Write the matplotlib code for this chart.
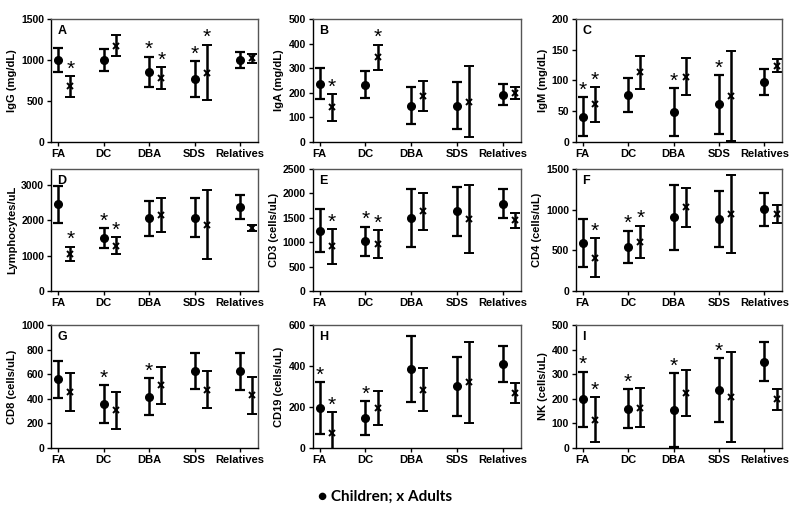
#!/usr/bin/env python3
# -*- coding: utf-8 -*-
import matplotlib
matplotlib.use('Agg')
import matplotlib.pyplot as plt

plt.rcParams['font.family'] = ['Liberation Sans', 'DejaVu Sans']
plt.rcParams['font.weight'] = 'bold'

# data (mean, sd, significance star 1/0)
groups = ['FA', 'DC', 'DBA', 'SDS', 'Relatives']

# A: IgG
igg_child = [1000, 1000, 855, 766, 1005]
igg_child_sd = [150, 130, 185, 222, 97]
igg_adult = [677, 1175, 780, 847, 1020]
igg_adult_sd = [130, 127, 135, 340, 58]
igg_star_child = [0, 0, 1, 1, 0]
igg_star_adult = [1, 0, 1, 1, 0]

# B: IgA
iga_child = [236, 232, 148, 148, 193]
iga_child_sd = [63, 55, 75, 94, 41]
iga_adult = [141, 344, 186, 164, 200]
iga_adult_sd = [55, 52, 60, 143, 25]
iga_star_child = [0, 0, 0, 0, 0]
iga_star_adult = [1, 1, 0, 0, 0]

# C: IgM
igm_child = [41, 76, 49, 61, 98]
igm_child_sd = [32, 28, 39, 48, 21]
igm_adult = [61, 113, 106, 75, 124]
igm_adult_sd = [28, 27, 30, 73, 11]
igm_star_child = [1, 0, 1, 1, 0]
igm_star_adult = [1, 0, 0, 0, 0]

# D: lymphocytes
lym_child = [2450, 1500, 2058, 2077, 2365]
lym_child_sd = [530, 270, 500, 560, 340]
lym_adult = [1058, 1279, 2144, 1875, 1779]
lym_adult_sd = [200, 240, 480, 980, 75]
lym_star_child = [0, 1, 0, 0, 0]
lym_star_adult = [1, 1, 0, 0, 0]

# E: CD3
cd3_child = [1236, 1019, 1495, 1630, 1787]
cd3_child_sd = [440, 300, 595, 505, 300]
cd3_adult = [917, 965, 1630, 1481, 1447]
cd3_adult_sd = [357, 290, 370, 695, 150]
cd3_star_child = [0, 1, 0, 0, 0]
cd3_star_adult = [1, 1, 0, 0, 0]

# F: CD4
cd4_child = [591, 542, 905, 889, 1007]
cd4_child_sd = [295, 200, 395, 343, 202]
cd4_adult = [408, 603, 1027, 946, 946]
cd4_adult_sd = [240, 200, 240, 475, 112]
cd4_star_child = [0, 1, 0, 0, 0]
cd4_star_adult = [1, 1, 0, 0, 0]

# G: CD8
cd8_child = [558, 360, 415, 626, 623]
cd8_child_sd = [150, 153, 150, 150, 153]
cd8_adult = [455, 306, 509, 474, 428]
cd8_adult_sd = [152, 153, 150, 150, 152]
cd8_star_child = [0, 1, 1, 0, 0]
cd8_star_adult = [0, 0, 0, 0, 0]

# H: CD19
cd19_child = [195, 145, 385, 301, 410]
cd19_child_sd = [125, 84, 162, 145, 86]
cd19_adult = [72, 193, 285, 320, 268]
cd19_adult_sd = [102, 83, 104, 198, 47]
cd19_star_child = [1, 1, 0, 0, 0]
cd19_star_adult = [1, 0, 0, 0, 0]

# I: NK
nk_child = [198, 160, 153, 235, 350]
nk_child_sd = [112, 79, 150, 131, 79]
nk_adult = [115, 164, 225, 207, 198]
nk_adult_sd = [92, 78, 94, 183, 42]
nk_star_child = [1, 1, 1, 1, 0]
nk_star_adult = [1, 0, 0, 0, 0]

panels = [
    ('A', 'IgG (mg/dL)', 1500, 500, igg_child, igg_child_sd, igg_adult, igg_adult_sd, igg_star_child, igg_star_adult),
    ('B', 'IgA (mg/dL)', 500, 100, iga_child, iga_child_sd, iga_adult, iga_adult_sd, iga_star_child, iga_star_adult),
    ('C', 'IgM (mg/dL)', 200, 50, igm_child, igm_child_sd, igm_adult, igm_adult_sd, igm_star_child, igm_star_adult),
    ('D', 'Lymphocytes/uL', 3450, 1000, lym_child, lym_child_sd, lym_adult, lym_adult_sd, lym_star_child, lym_star_adult),
    ('E', 'CD3 (cells/uL)', 2500, 500, cd3_child, cd3_child_sd, cd3_adult, cd3_adult_sd, cd3_star_child, cd3_star_adult),
    ('F', 'CD4 (cells/uL)', 1500, 500, cd4_child, cd4_child_sd, cd4_adult, cd4_adult_sd, cd4_star_child, cd4_star_adult),
    ('G', 'CD8 (cells/uL)', 1000, 200, cd8_child, cd8_child_sd, cd8_adult, cd8_adult_sd, cd8_star_child, cd8_star_adult),
    ('H', 'CD19 (cells/uL)', 600, 200, cd19_child, cd19_child_sd, cd19_adult, cd19_adult_sd, cd19_star_child, cd19_star_adult),
    ('I', 'NK (cells/uL)', 500, 100, nk_child, nk_child_sd, nk_adult, nk_adult_sd, nk_star_child, nk_star_adult),
]

fig = plt.figure(figsize=(8, 5.22), dpi=100)

# axes boxes in figure fractions (left, bottom, width, height)
lefts = [0.064, 0.391, 0.720]
widths = [0.259, 0.260, 0.258]
bottoms = [0.728, 0.4425, 0.1418]
heights = [0.2356, 0.2337, 0.2356]
adult_shift = 0.27


def star(ax, x, top):
    ax.annotate('*', xy=(x, top), xytext=(0, 5), textcoords='offset points',
                ha='center', va='center', fontsize=15, fontweight='normal')


for i, (letter, ylabel, ymax, step, ch, ch_sd, ad, ad_sd, st_ch, st_ad) in enumerate(panels):
    r, c = divmod(i, 3)
    ax = fig.add_axes([lefts[c], bottoms[r], widths[c], heights[r]])
    xs = list(range(1, len(groups) + 1))
    xa = [x + adult_shift for x in xs]
    ax.errorbar(xs, ch, yerr=ch_sd, fmt='o', color='black', ms=5.5,
                capsize=3.5, elinewidth=1.8, capthick=1.6, clip_on=True)
    ax.errorbar(xa, ad, yerr=ad_sd, fmt='x', color='black', ms=5, mew=1.4,
                capsize=3.5, elinewidth=1.8, capthick=1.6, clip_on=True)
    for k in range(len(groups)):
        if st_ch[k]:
            star(ax, xs[k], ch[k] + ch_sd[k])
        if st_ad[k]:
            star(ax, xa[k], ad[k] + ad_sd[k])
    ax.set_xlim(0.85, 5.4)
    ax.set_ylim(0, ymax)
    ax.set_yticks(list(range(0, ymax + 1, step)))
    ax.set_xticks(xs)
    ax.set_xticklabels(groups, fontsize=8, fontweight='bold')
    ax.tick_params(axis='y', labelsize=7.5, direction='out', length=3, width=1, pad=2)
    ax.tick_params(axis='x', direction='out', length=3, width=1, pad=2)
    for lab in ax.get_yticklabels():
        lab.set_fontweight('bold')
    ax.set_ylabel(ylabel, fontsize=8, fontweight='bold', labelpad=3)
    ax.text(0.03, 0.95, letter, transform=ax.transAxes, fontsize=9,
            fontweight='bold', va='top', ha='left')
    for side in ['left', 'bottom']:
        ax.spines[side].set_color('black')
        ax.spines[side].set_linewidth(1.0)
    for side in ['top', 'right']:
        ax.spines[side].set_color('#555555')
        ax.spines[side].set_linewidth(1.0)

fig.text(0.481, 0.048, '\u25cf Children; x Adults', ha='center', va='center',
         fontsize=11, fontweight='bold', family=['Lato', 'DejaVu Sans'])

fig.savefig('out.png', dpi=100)
